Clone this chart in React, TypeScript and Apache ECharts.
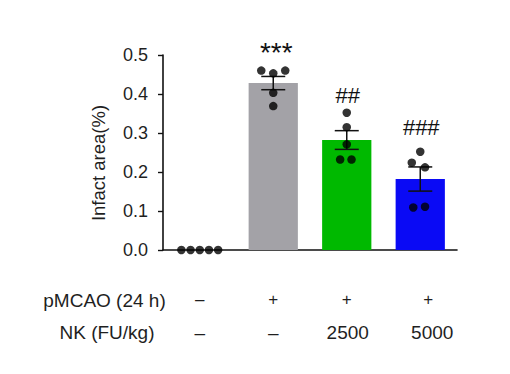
import React, { useEffect, useRef } from "react";
import * as echarts from "echarts";

const groups = ["Sham", "pMCAO", "NK 2500", "NK 5000"];
const meanValues = [0, 0.428, 0.282, 0.182];
const semValues = [0, 0.017, 0.024, 0.031];
const barColors = ["#a3a2a7", "#a3a2a7", "#00b900", "#0a0af5"];
const dotValues = [
  [0, 0, 0, 0, 0],
  [0.46, 0.453, 0.46, 0.403, 0.369],
  [0.352, 0.315, 0.271, 0.232, 0.232],
  [0.252, 0.224, 0.212, 0.109, 0.111],
];
const dotJitter = [
  [-0.25, -0.125, 0, 0.125, 0.25],
  [-0.163, 0, 0.163, 0, 0],
  [0, 0, 0, -0.09, 0.065],
  [0, -0.115, 0.065, -0.095, 0.065],
];
const sigLabels = ["", "***", "##", "###"];
const sigY = [0, 0.506, 0.397, 0.313];
const yTicks = [0, 0.1, 0.2, 0.3, 0.4, 0.5];
const row1Label = "pMCAO (24 h)";
const row2Label = "NK (FU/kg)";
const row1 = ["–", "+", "+", "+"];
const row2 = ["–", "–", "2500", "5000"];

const FONT = "'Liberation Sans', Arial, Helvetica, sans-serif";
const TXT = "#1f1f1f";

export default function App() {
  const ref = useRef<HTMLDivElement>(null);
  useEffect(() => {
    if (!ref.current) return;
    const chart = echarts.init(ref.current, undefined, { renderer: "svg" });
    const gridLeft = 163;
    const gridRight = 53;
    const plotW = 510 - gridLeft - gridRight;
    const catW = plotW / groups.length;
    const colX = (i: number) => gridLeft + catW * (i + 0.5);

    const scatterData: number[][] = [];
    dotValues.forEach((vals, gi) =>
      vals.forEach((v, k) => scatterData.push([gi + 0.5 + dotJitter[gi][k], v]))
    );

    const graphics: any[] = [
      {
        type: "text",
        x: 98,
        y: 163,
        rotation: Math.PI / 2,
        style: {
          text: "Infact area(%)",
          fontSize: 18.5,
          fontFamily: FONT,
          fill: TXT,
          textAlign: "center",
          textVerticalAlign: "middle",
        },
      },
      {
        type: "text",
        x: 104.5,
        y: 300,
        style: { text: row1Label, fontSize: 19, fontFamily: FONT, fill: TXT, textAlign: "center", textVerticalAlign: "middle" },
      },
      {
        type: "text",
        x: 107,
        y: 332,
        style: { text: row2Label, fontSize: 19, fontFamily: FONT, fill: TXT, textAlign: "center", textVerticalAlign: "middle" },
      },
    ];
    const row1X = [0, 0, 0, 8];
    const row2X = [0, 0, 1, 12];
    row1.forEach((t, i) =>
      graphics.push({
        type: "text",
        x: colX(i) + row1X[i],
        y: 299,
        style: { text: t, fontSize: 17, fontFamily: FONT, fill: TXT, textAlign: "center", textVerticalAlign: "middle" },
      })
    );
    row2.forEach((t, i) =>
      graphics.push({
        type: "text",
        x: colX(i) + row2X[i],
        y: 332,
        style: { text: t, fontSize: 19, fontFamily: FONT, fill: TXT, textAlign: "center", textVerticalAlign: "middle" },
      })
    );

    chart.setOption({
      animation: false,
      grid: { left: gridLeft, right: gridRight, top: 55, bottom: 124, containLabel: false },
      xAxis: [
        {
          type: "category",
          data: groups,
          axisLine: { lineStyle: { color: "#111", width: 1.6 } },
          axisTick: { show: false },
          axisLabel: { show: false },
        },
        {
          type: "value",
          min: 0,
          max: groups.length,
          show: false,
        },
      ],
      yAxis: {
        type: "value",
        min: 0,
        max: 0.5,
        interval: 0.1,
        axisLine: { show: true, lineStyle: { color: "#111", width: 1.6 } },
        axisTick: { show: true, length: 5, lineStyle: { color: "#111", width: 1.4 } },
        splitLine: { show: false },
        axisLabel: {
          margin: 15,
          fontSize: 18,
          fontFamily: FONT,
          color: TXT,
          formatter: (v: number) => (yTicks.some((t) => Math.abs(t - v) < 1e-9) ? v.toFixed(1) : ""),
        },
      },
      graphic: graphics,
      series: [
        {
          type: "bar",
          xAxisIndex: 0,
          barWidth: "67%",
          data: meanValues.map((v, i) => ({ value: v, itemStyle: { color: barColors[i] } })),
          z: 1,
        },
        {
          type: "custom",
          xAxisIndex: 0,
          z: 3,
          data: meanValues.map((m, i) => [i, m, semValues[i]]),
          renderItem: (params: any, api: any) => {
            const i = api.value(0);
            const m = api.value(1);
            const s = api.value(2);
            if (!s) return null;
            const top = api.coord([i, m + s]);
            const bot = api.coord([i, m - s]);
            const hw = 12;
            const ls = { stroke: "#111", lineWidth: 1.5 };
            return {
              type: "group",
              children: [
                { type: "line", shape: { x1: top[0], y1: top[1], x2: bot[0], y2: bot[1] }, style: ls },
                { type: "line", shape: { x1: top[0] - hw, y1: top[1], x2: top[0] + hw, y2: top[1] }, style: ls },
                { type: "line", shape: { x1: bot[0] - hw, y1: bot[1], x2: bot[0] + hw, y2: bot[1] }, style: ls },
              ],
            };
          },
        },
        {
          type: "scatter",
          xAxisIndex: 1,
          symbolSize: 8.5,
          itemStyle: { color: "#000" },
          data: scatterData,
          z: 4,
          clip: false,
        },
        {
          type: "custom",
          xAxisIndex: 0,
          z: 5,
          clip: false,
          data: sigY.map((y, i) => [i, y]),
          renderItem: (params: any, api: any) => {
            const idx = params.dataIndex;
            const t = sigLabels[idx];
            if (!t) return null;
            const p = api.coord([api.value(0), api.value(1)]);
            const star = t.indexOf("*") >= 0;
            return {
              type: "text",
              x: p[0] + (star ? 3 : 1),
              y: p[1],
              style: {
                text: t,
                fontSize: star ? 28 : 22,
                fontFamily: FONT,
                fill: "#111",
                textAlign: "center",
                textVerticalAlign: "middle",
                align: "center",
                verticalAlign: "middle",
              },
            };
          },
        },
      ],
    });
    return () => chart.dispose();
  }, []);
  return (
    <div
      ref={ref}
      style={{ position: "fixed", left: 0, top: 0, width: 510, height: 374, background: "#fff" }}
    />
  );
}
